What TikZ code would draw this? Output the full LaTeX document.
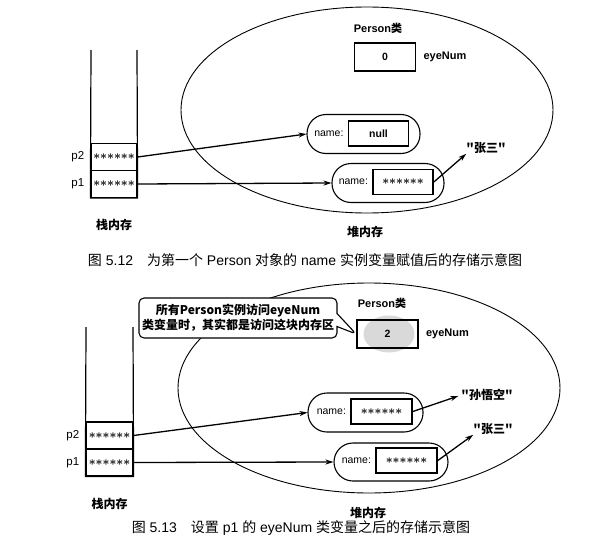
\documentclass[tikz,border=0pt]{standalone}
\usepackage{fontspec}
\setmainfont{Liberation Sans}
\newfontfamily\cjk{Noto Sans CJK SC}
\usetikzlibrary{arrows.meta, positioning, shapes.geometric, shapes.callouts}

\newcommand\sixstars{{\fontsize{11.5}{12}\selectfont\boldmath$\mathord{\ast}\mathord{\ast}\mathord{\ast}\mathord{\ast}\mathord{\ast}\mathord{\ast}$}}

\begin{document}
\begin{tikzpicture}[
    x=1pt, y=-1pt,
    every node/.style={inner sep=0pt, font=\fontsize{10.5}{12}\selectfont},
    >={Stealth[length=8pt, width=5pt]}, % Arrow style
    heap/.style={draw, ellipse, line width=0.9pt},
    cell/.style={draw, line width=1.2pt, minimum width=46pt, minimum height=27pt},
    obj/.style={draw, line width=1.1pt, fill=white, rounded corners=19pt, minimum height=39pt},
    slot/.style={draw, line width=1.7pt, fill=white, minimum width=60pt, minimum height=25pt, font=\fontsize{10.5}{12}\selectfont\bfseries},
    numbox/.style={draw, line width=1.7pt, minimum width=61pt, minimum height=28pt, font=\fontsize{10.5}{12}\selectfont\bfseries},
    plabel/.style={font=\fontsize{11.5}{13}\selectfont},
    bold/.style={font=\fontsize{11}{13}\selectfont\bfseries},
    zh/.style={font=\fontsize{12}{14}\selectfont\cjk\bfseries},
    caption/.style={font=\fontsize{14}{16}\selectfont},
    note/.style={draw, rectangle callout, line width=1.1pt, fill=white, rounded corners=5pt,
        minimum width=198pt, minimum height=40pt, align=center, callout pointer width=13pt,
        font=\fontsize{12}{15}\selectfont\cjk\bfseries},
    arrow/.style={->, line width=1.3pt}
]
\useasboundingbox (0,0) rectangle (608,549);

% ---- Figure 5.12 ----
% Nodes
\node[heap, minimum width=372pt, minimum height=206pt] (heapA) at (367,110) {};

\node[cell] (p2A) at (114,157) {\sixstars};
\node[cell] (p1A) at (114,184) {\sixstars};
\draw[line width=1.2pt] (91,50) -- (p1A.south west) -- (p1A.south east) -- (137,50);
\node[plabel, left=6pt of p2A] (lp2A) {p2};
\node[plabel, left=6pt of p1A] (lp1A) {p1};
\node[zh, below=21pt of p1A] (stackA) {栈内存};

\node[bold] (clsA) at (378,28) {Person{\cjk 类}};
\node[numbox] (numA) at (385,57) {0};
\node[bold, right=7pt of numA] (eyeA) {eyeNum};

\node[obj, minimum width=113pt] (objA2) at (363.5,134) {};
\node[slot] (slotA2) at (378.5,133.5) {null};
\node[left=4pt of slotA2] (nameA2) {name:};

\node[obj, minimum width=112pt] (objA1) at (388,183) {};
\node[slot] (slotA1) at (403,182) {\sixstars};
\node[left=4pt of slotA1] (nameA1) {name:};

\node[zh] (zsA) at (486,148) {"张三"};
\node[zh] (heapLblA) at (365,232) {堆内存};

% Arrows
\draw[arrow] (p2A.east) -- (objA2.west);
\draw[arrow] (p1A.east) -- (objA1.west);
\draw[arrow] (slotA1.east) -- (zsA.south west);

\node[caption] (capA) at (305,260) {{\cjk 图} 5.12\quad{\cjk 为第一个} Person {\cjk 对象的} name {\cjk 实例变量赋值后的存储示意图}};

% ---- Figure 5.13 ----
% Nodes
\node[heap, minimum width=382pt, minimum height=210pt] (heapB) at (369,388) {};

\node[cell, minimum width=47pt] (p2B) at (109.5,435.5) {\sixstars};
\node[cell, minimum width=47pt] (p1B) at (109.5,462.5) {\sixstars};
\draw[line width=1.2pt] (86,327) -- (p1B.south west) -- (p1B.south east) -- (133,327);
\node[plabel, left=6pt of p2B] (lp2B) {p2};
\node[plabel, left=6pt of p1B] (lp1B) {p1};
\node[zh, below=21pt of p1B] (stackB) {栈内存};

\node[bold] (clsB) at (382,303) {Person{\cjk 类}};
\node[ellipse, fill=gray!30, minimum width=51pt, minimum height=37pt] (glowB) at (389,334) {};
\node[numbox] (numB) at (387.5,334) {2};
\node[bold, right=7pt of numB] (eyeB) {eyeNum};
\node[note, callout absolute pointer={(numB.west)}] (noteB) at (238,318)
    {所有Person实例访问eyeNum\\类变量时，其实都是访问这块内存区};

\node[obj, minimum width=115pt] (objB2) at (365.5,412.5) {};
\node[slot, minimum width=61pt] (slotB2) at (381.5,411.5) {\sixstars};
\node[left=4pt of slotB2] (nameB2) {name:};

\node[obj, minimum width=114pt, minimum height=38pt] (objB1) at (391,462) {};
\node[slot, minimum width=61pt] (slotB1) at (406.5,460.5) {\sixstars};
\node[left=4pt of slotB1] (nameB1) {name:};

\node[zh] (swkB) at (487,395) {"孙悟空"};
\node[zh] (zsB) at (493,429) {"张三"};
\node[zh] (heapLblB) at (368,513) {堆内存};

% Arrows
\draw[arrow] (p2B.east) -- (objB2.west);
\draw[arrow] (p1B.east) -- (objB1.west);
\draw[arrow, shorten >=3pt] (slotB2.east) -- (swkB.west);
\draw[arrow] (slotB1.east) -- (zsB.south west);

\node[caption] (capB) at (301,528) {{\cjk 图} 5.13\quad{\cjk 设置} p1 {\cjk 的} eyeNum {\cjk 类变量之后的存储示意图}};

\end{tikzpicture}
\end{document}
